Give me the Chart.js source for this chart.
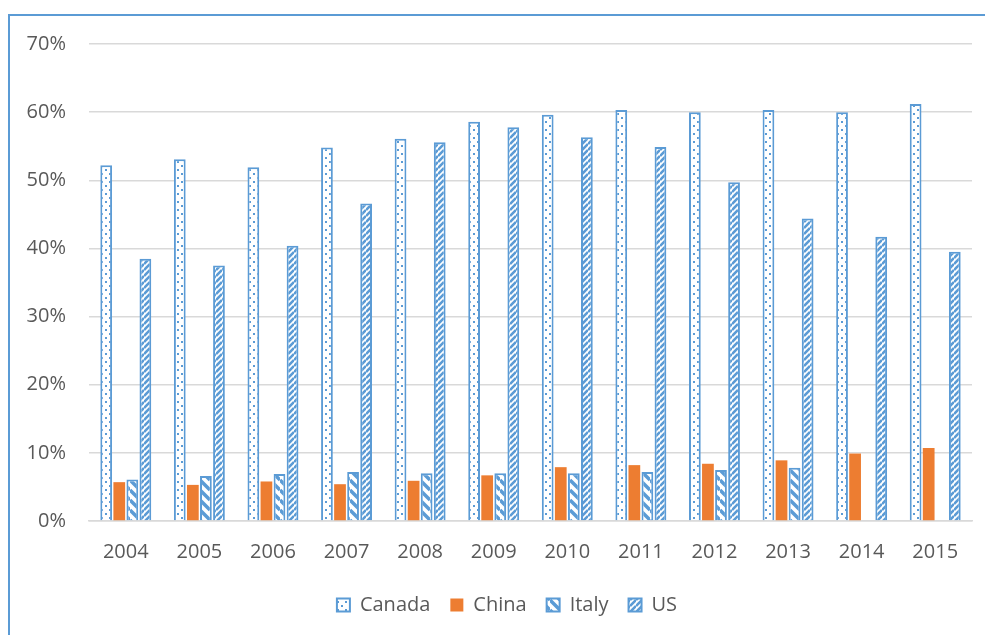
<!DOCTYPE html>
<html>
<head>
<meta charset="utf-8">
<script src="https://cdn.jsdelivr.net/npm/chart.js@4"></script>
<style>
  html, body { margin: 0; padding: 0; background: #fff; overflow: hidden; }
  #wrap { position: relative; width: 985px; height: 635px; }
  #frame {
    position: absolute; left: 8px; top: 14px; width: 1000px; height: 700px;
    border-left: 2px solid #5b9bd5; border-top: 2px solid #5b9bd5;
  }
  canvas { position: absolute; left: 0; top: 0; }
</style>
</head>
<body>
<div id="wrap">
  <div id="frame"></div>
  <canvas id="chart" width="985" height="635"></canvas>
</div>
<script>
// años y series (%)
const years = ['2004','2005','2006','2007','2008','2009','2010','2011','2012','2013','2014','2015'];
const canada = [52.2, 53.1, 51.9, 54.8, 56.1, 58.6, 59.6, 60.3, 60.0, 60.3, 60.0, 61.2];
const china  = [5.7, 5.3, 5.8, 5.4, 5.9, 6.7, 7.9, 8.2, 8.4, 8.9, 9.9, 10.7];
const italy  = [6.1, 6.6, 6.9, 7.2, 7.0, 7.0, 7.0, 7.2, 7.5, 7.8, null, null];
const us     = [38.5, 37.5, 40.4, 46.6, 55.6, 57.8, 56.3, 54.9, 49.7, 44.4, 41.7, 39.5];
const yMax = 70;
const yStep = 10;

const azul = '#5b9bd5';
const naranja = '#ed7d31';

// tramas tipo Excel
function trama(size, dibujar) {
    const c = document.createElement('canvas');
    c.width = size; c.height = size;
    const g = c.getContext('2d');
    g.fillStyle = '#fff';
    g.fillRect(0, 0, size, size);
    dibujar(g, size);
    return g.createPattern(c, 'repeat');
}

const ctx = document.getElementById('chart').getContext('2d');

const puntos = trama(8, (g) => {
    g.fillStyle = azul;
    g.fillRect(1, 1, 2, 2);
    g.fillRect(5, 5, 2, 2);
});
const diagBajada = trama(10, (g, s) => {
    g.strokeStyle = azul; g.lineWidth = 3.5;
    for (let k = -1; k <= 1; k++) {
        g.beginPath(); g.moveTo(0, k * s); g.lineTo(s, s + k * s); g.stroke();
    }
});
const diagSubida = trama(6, (g, s) => {
    g.strokeStyle = azul; g.lineWidth = 2.6;
    for (let k = -1; k <= 1; k++) {
        g.beginPath(); g.moveTo(0, s + k * s); g.lineTo(s, k * s); g.stroke();
    }
});

// la leyenda va algo a la derecha del centro
const desplazaLeyenda = {
    id: 'desplazaLeyenda',
    afterLayout(chart) {
        if (chart.legend) {
            chart.legend.left += 21;
            chart.legend.right += 21;
        }
    }
};

const fuente = { family: '"Open Sans", sans-serif', size: 20 };

new Chart(ctx, {
    type: 'bar',
    data: {
        labels: years,
        datasets: [
            { label: 'Canada', data: canada, backgroundColor: puntos, borderColor: azul, borderWidth: 2 },
            { label: 'China', data: china, backgroundColor: naranja, borderColor: naranja, borderWidth: 0 },
            { label: 'Italy', data: italy, backgroundColor: diagBajada, borderColor: azul, borderWidth: 2 },
            { label: 'US', data: us, backgroundColor: diagSubida, borderColor: azul, borderWidth: 2 }
        ]
    },
    options: {
        responsive: false,
        animation: false,
        devicePixelRatio: 1,
        datasets: { bar: { categoryPercentage: 0.71, barPercentage: 0.9 } },
        layout: { padding: { left: 0, right: 13, top: 44, bottom: 10 } },
        plugins: {
            tooltip: { enabled: false },
            legend: {
                position: 'bottom',
                labels: {
                    font: fuente,
                    color: '#595959',
                    boxWidth: 13,
                    boxHeight: 13,
                    padding: 20
                }
            }
        },
        scales: {
            x: {
                afterFit: (s) => { s.height = 54; },
                grid: { display: false, drawTicks: false },
                border: { display: true, color: '#d9d9d9', width: 1.5 },
                ticks: { font: fuente, color: '#595959', padding: 19, maxRotation: 0 }
            },
            y: {
                min: 0,
                max: yMax,
                afterFit: (s) => { s.width = 89; },
                grid: { color: '#d9d9d9', lineWidth: 1.5, drawTicks: false },
                border: { display: false },
                ticks: {
                    stepSize: yStep,
                    font: fuente,
                    color: '#595959',
                    padding: 23,
                    callback: (v) => v + '%'
                }
            }
        }
    },
    plugins: [desplazaLeyenda]
});
</script>
</body>
</html>
